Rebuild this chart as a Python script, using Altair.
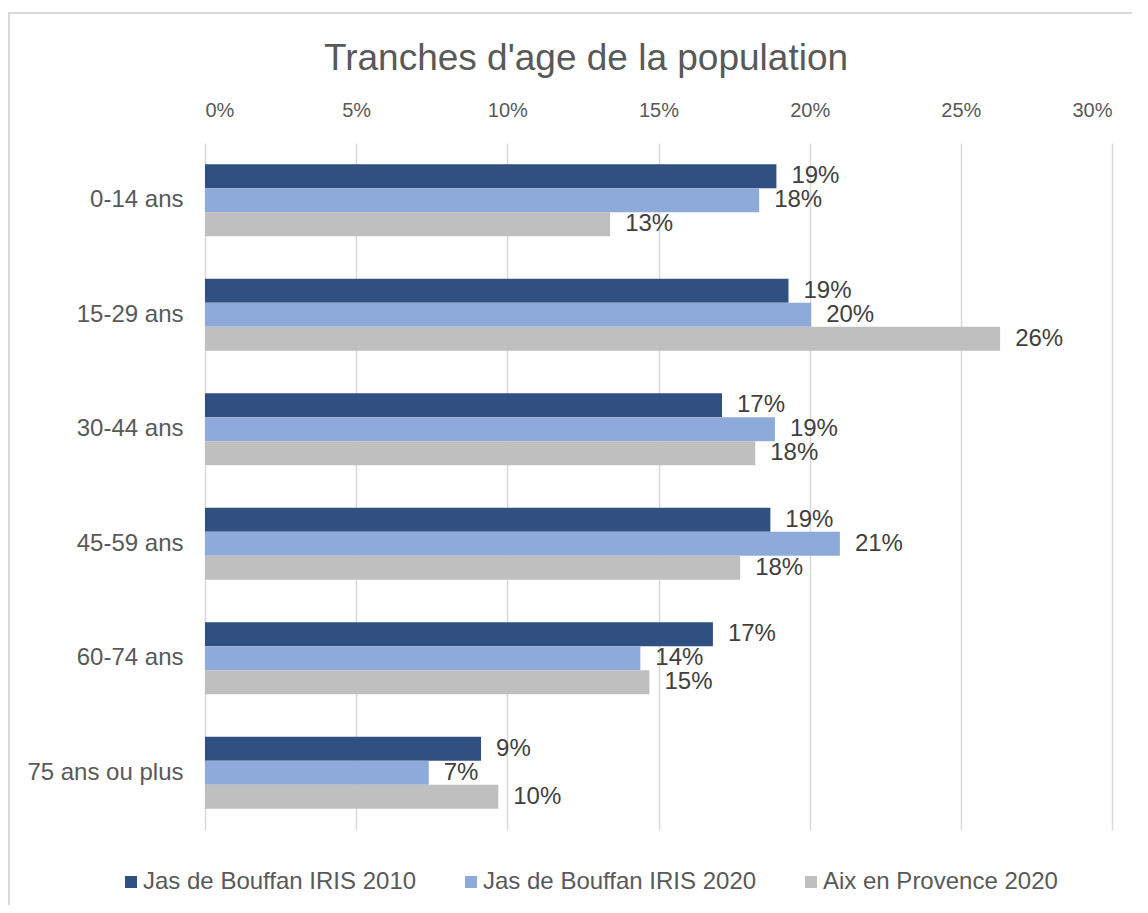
import altair as alt
import pandas as pd

title_text = ["Tranches d'age de la population"]
categories = ["0-14 ans", "15-29 ans", "30-44 ans", "45-59 ans", "60-74 ans", "75 ans ou plus"]
series = ["Jas de Bouffan IRIS 2010", "Jas de Bouffan IRIS 2020", "Aix en Provence 2020"]
colors = ["#2F5080", "#8EAADB", "#BFBFBF"]

iris_2010 = [0.189, 0.193, 0.171, 0.187, 0.168, 0.0913]
iris_2020 = [0.1833, 0.2005, 0.1885, 0.210, 0.144, 0.074]
aix_2020 = [0.134, 0.263, 0.182, 0.177, 0.147, 0.097]

x_ticks = [0, 0.05, 0.10, 0.15, 0.20, 0.25, 0.30]

rows = []
for s, vals in zip(series, [iris_2010, iris_2020, aix_2020]):
    for c, v in zip(categories, vals):
        rows.append({"cat": c, "serie": s, "val": v})
df = pd.DataFrame(rows)

FONT = "Liberation Sans"
W, H = 907, 687

base = alt.Chart(df).encode(
    y=alt.Y("cat:N", sort=categories, title=None,
            scale=alt.Scale(paddingInner=0.37, paddingOuter=0.185),
            axis=alt.Axis(domain=False, ticks=False, labelFontSize=24, labelColor="#595959",
                          labelFont=FONT, labelPadding=22, labelLimit=300)),
    yOffset=alt.YOffset("serie:N", sort=series),
)

bars = base.mark_bar().encode(
    x=alt.X("val:Q", title=None,
            scale=alt.Scale(domain=[0, 0.30], nice=False),
            axis=alt.Axis(orient="top", values=x_ticks, format=".0%", domain=False, ticks=False,
                          labelFontSize=20, labelColor="#595959", labelFont=FONT, labelPadding=23,
                          gridColor="#D9D9D9", gridWidth=1.5)),
    color=alt.Color("serie:N", sort=series, title=None,
                    scale=alt.Scale(domain=series, range=colors),
                    legend=alt.Legend(orient="none", legendX=-86, legendY=727, direction="horizontal",
                                      symbolType="square", symbolSize=144, symbolStrokeWidth=0,
                                      labelFontSize=24, labelColor="#595959", labelFont=FONT,
                                      labelLimit=400, labelOffset=0, columnPadding=42)),
)

labels = base.mark_text(align="left", baseline="middle", dx=15, fontSize=24, color="#404040", font=FONT).encode(
    x=alt.X("val:Q"),
    text=alt.Text("val:Q", format=".0%"),
)

frame = alt.Chart(pd.DataFrame({"a": [0]})).mark_rect(fill=None, stroke="#D9D9D9", strokeWidth=2).encode(
    x=alt.value(9 - 205), x2=alt.value(1148 - 205 + 30),
    y=alt.value(13 - 143), y2=alt.value(913 - 143 + 30),
)

title = alt.Chart(pd.DataFrame({"t": title_text})).mark_text(
    fontSize=37, font=FONT, color="#595959", align="center", baseline="middle"
).encode(text="t:N", x=alt.value(586 - 205), y=alt.value(57 - 141))

chart = alt.layer(frame, title, bars, labels).properties(
    width=W, height=H,
    autosize=alt.AutoSizeParams(type="none"),
    padding={"left": 197, "top": 135, "right": 20, "bottom": 75},
).configure_view(stroke=None)

chart.save("out.html", embed_options={"renderer": "svg", "actions": False})
